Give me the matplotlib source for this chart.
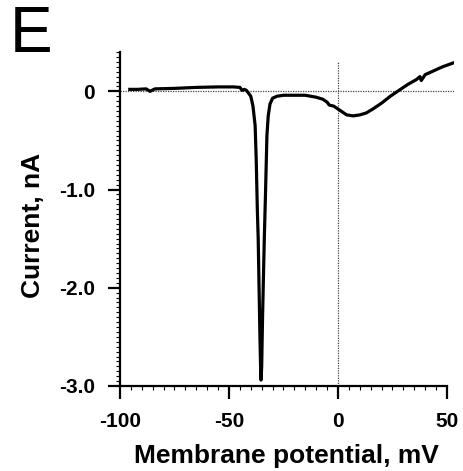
import matplotlib
matplotlib.use("Agg")
import matplotlib.pyplot as plt
from matplotlib.ticker import MultipleLocator, FixedFormatter, FixedLocator

# I-V sweep (mV, nA)
voltage = [-95.5, -92, -88, -86.2, -84, -75, -65, -55, -48, -45, -44, -43,
           -42, -40, -39, -38, -37.5, -37, -36.6, -36.2, -35.8, -35.5, -35.3,
           -35.0, -34.6, -34.2, -33.8, -33.2, -32.6, -32, -31.2, -30, -28,
           -25, -20, -15, -10, -7, -5, -4, -2, 0, 2, 4, 7, 10, 13, 16, 20,
           24, 28, 32, 36, 37.6, 38.2, 40, 44, 48, 53]
current = [0.02, 0.02, 0.025, 0.0, 0.025, 0.03, 0.04, 0.045, 0.045, 0.04,
           0.01, 0.02, 0.01, -0.05, -0.15, -0.35, -0.7, -1.2, -1.5, -2.0,
           -2.5, -2.8, -2.94, -2.8, -2.3, -1.9, -1.5, -1.0, -0.45, -0.25,
           -0.13, -0.07, -0.05, -0.04, -0.04, -0.04, -0.06, -0.08, -0.11,
           -0.14, -0.15, -0.18, -0.21, -0.24, -0.25, -0.24, -0.22, -0.18,
           -0.12, -0.05, 0.01, 0.07, 0.12, 0.15, 0.11, 0.17, 0.21, 0.25,
           0.29]

yticks = [0, -1.0, -2.0, -3.0]
ylabels = ["0", "-1.0", "-2.0", "-3.0"]
xticks = [-100, -50, 0, 50]
xlabels = ["-100", "-50", "0", "50"]

plt.rcParams['font.family'] = ['Liberation Sans', 'DejaVu Sans']
plt.rcParams['axes.unicode_minus'] = False

fig = plt.figure(figsize=(4.64, 4.71), dpi=100)
ax = fig.add_axes([0.2586, 0.1805, 0.7188, 0.709])

ax.axhline(0, color='#444444', lw=0.9, ls=(0, (1, 1)), zorder=1)
ax.plot([0, 0], [-3.0, 0.3], color='#444444', lw=0.9, ls=(0, (1, 1)), zorder=1)
ax.plot(voltage, current, color='black', lw=2.3, zorder=3)

ax.set_xlim(-100, 53)
ax.set_ylim(-3.0, 0.4)

for s in ('top', 'right'):
    ax.spines[s].set_visible(False)
ax.spines['bottom'].set_bounds(-100, 50)
ax.spines['left'].set_linewidth(1.6)
ax.spines['bottom'].set_linewidth(1.6)

ax.xaxis.set_major_locator(FixedLocator(xticks))
ax.xaxis.set_major_formatter(FixedFormatter(xlabels))
ax.xaxis.set_minor_locator(MultipleLocator(5))
ax.yaxis.set_major_locator(FixedLocator(yticks))
ax.yaxis.set_major_formatter(FixedFormatter(ylabels))
ax.yaxis.set_minor_locator(MultipleLocator(0.05))

ax.tick_params(which='major', direction='out', length=9, width=1.6,
               labelsize=15)
ax.tick_params(axis='x', which='major', pad=10)
ax.tick_params(axis='y', which='major', pad=9)
ax.tick_params(which='minor', direction='out', length=3, width=0.8)
for lab in ax.get_xticklabels() + ax.get_yticklabels():
    lab.set_fontweight('bold')

ax.set_xlabel('Membrane potential, mV', fontsize=19, fontweight='bold',
              labelpad=9)
ax.set_ylabel('Current, nA', fontsize=19, fontweight='bold')
ax.yaxis.set_label_coords(-0.225, 0.48)

fig.text(0.022, 0.99, 'E', fontsize=46, va='top', ha='left')

fig.savefig('out.png', dpi=100)
